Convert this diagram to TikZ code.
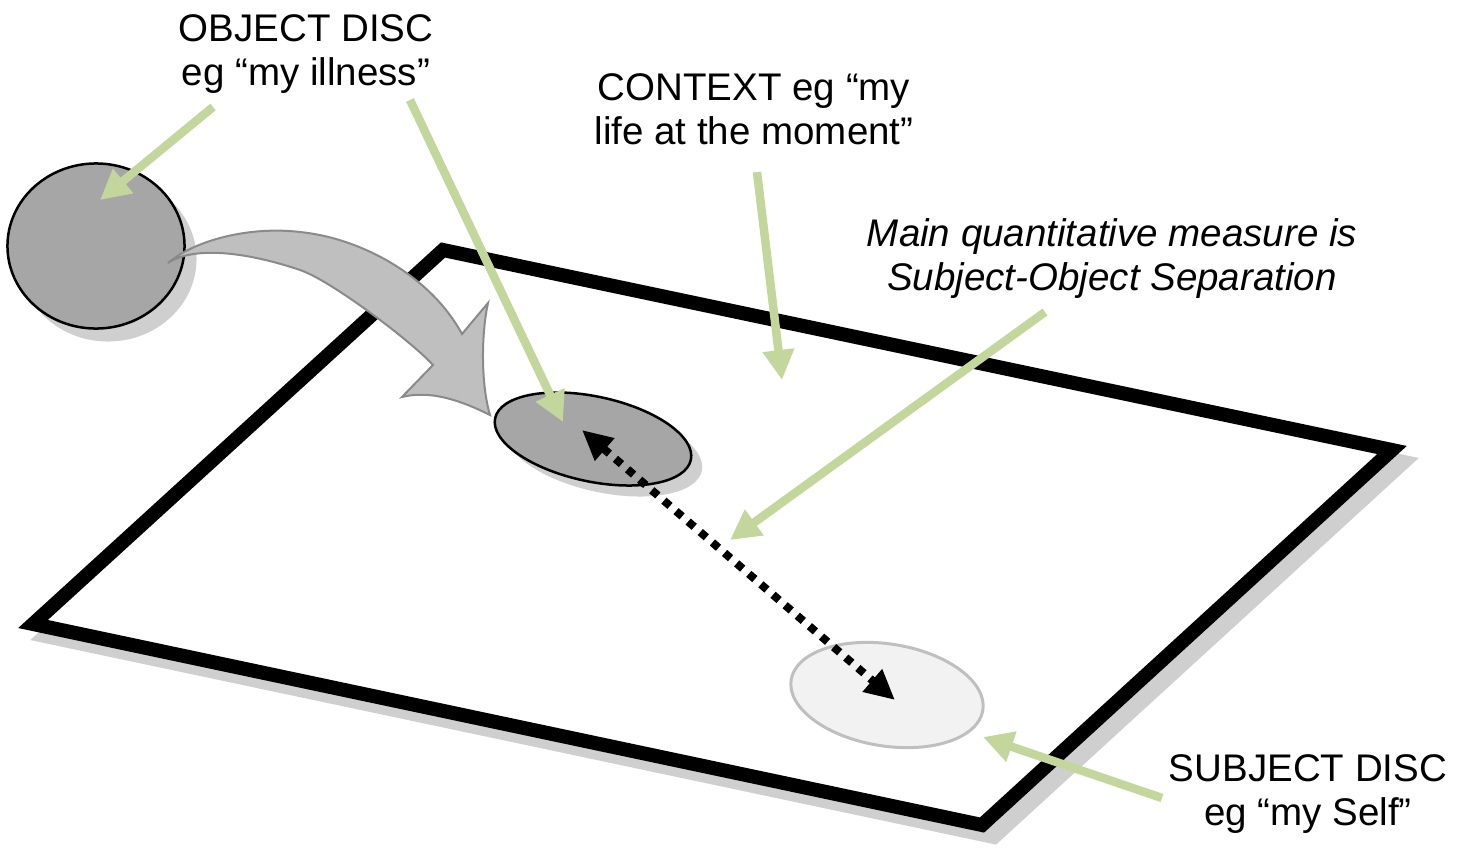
\documentclass[tikz,border=0pt]{standalone}
\usepackage{fontspec}
\setmainfont{Liberation Sans}
\usetikzlibrary{arrows.meta}
\definecolor{shadowc}{HTML}{CFCFCF}
\definecolor{discdark}{HTML}{A6A6A6}
\definecolor{disclight}{HTML}{F2F2F2}
\definecolor{discedge}{HTML}{BFBFBF}
\definecolor{pointer}{HTML}{C3D69B}
\definecolor{bendfill}{HTML}{BFBFBF}
\definecolor{bendedge}{HTML}{8A8A8A}
\begin{document}
\begin{tikzpicture}[x=0.01cm,y=-0.01cm,
  txt/.style={align=center, inner sep=0pt, anchor=north, font=\fontsize{10.95}{12.4}\selectfont},
  pointerarrow/.style={draw=pointer, line width=0.085cm, -{Triangle[length=0.3cm,width=0.3cm]}},
  planeframe/.style={line width=0.14cm, line join=miter},
  separation/.style={line width=0.08cm, dash pattern=on 0.08cm off 0.08cm,
    {Triangle[length=0.3cm,width=0.28cm]}-{Triangle[length=0.3cm,width=0.28cm]}}]
\useasboundingbox (0,0) rectangle (1466,848);

% plane shadow and plane
\draw[planeframe, draw=shadowc, fill=shadowc] (455,262) -- (1404,462) -- (994,837) -- (45,636) -- cycle;
\draw[planeframe, draw=black, fill=white] (443,250) -- (1392,450) -- (982,825) -- (33,624) -- cycle;

% object disc (off the plane)
\fill[shadowc] (108,259) ellipse [x radius=0.885cm, y radius=0.825cm];
\draw[fill=discdark, line width=0.025cm] (96,246) ellipse [x radius=0.885cm, y radius=0.825cm];

% curved block arrow
\draw[fill=bendfill, draw=bendedge, line width=0.02cm, line join=miter]
  (168,263) .. controls (195,240) and (250,226) .. (300,232)
  .. controls (360,238) and (430,275) .. (462,334)
  -- (488,303) .. controls (481,335) and (481,385) .. (490,415)
  .. controls (460,400) and (430,390) .. (402,397)
  -- (433,365) .. controls (410,340) and (330,280) .. (300,270)
  .. controls (250,253) and (195,245) .. (168,263) -- cycle;

% object disc on the plane
\fill[shadowc, rotate around={-12:(604,450)}] (604,450) ellipse [x radius=1.00cm, y radius=0.425cm];
\draw[fill=discdark, line width=0.025cm, rotate around={-12:(593,439)}] (593,439) ellipse [x radius=1.00cm, y radius=0.425cm];

% subject disc
\draw[fill=disclight, draw=discedge, line width=0.03cm, rotate around={-9:(887,695)}] (887,695) ellipse [x radius=0.97cm, y radius=0.51cm];

% separation arrow
\coordinate (sepA) at (582,430);
\coordinate (sepB) at (895,700);
\draw[separation] (sepA) -- (sepB);

% labels
\node[txt] (objlab) at (306,14) {OBJECT DISC\\eg “my illness”};
\node[txt] (ctxlab) at (754,73) {CONTEXT eg “my\\life at the moment”};
\node[txt, font=\fontsize{10.95}{12.4}\selectfont\itshape] (measlab) at (1112,218) {Main quantitative measure is\\Subject-Object Separation};
\node[txt] (subjlab) at (1308,754) {SUBJECT DISC\\eg “my Self”};

% green pointers
\coordinate (p1s) at (213,107); \coordinate (p1e) at (100,200);
\coordinate (p2s) at (410,100); \coordinate (p2e) at (563,422);
\coordinate (p3s) at (757,172); \coordinate (p3e) at (782,380);
\coordinate (p4s) at (1045,312); \coordinate (p4e) at (730,540);
\coordinate (p5s) at (1162,798); \coordinate (p5e) at (983,737);
\draw[pointerarrow] (p1s) -- (p1e);
\draw[pointerarrow] (p2s) -- (p2e);
\draw[pointerarrow] (p3s) -- (p3e);
\draw[pointerarrow] (p4s) -- (p4e);
\draw[pointerarrow] (p5s) -- (p5e);
\end{tikzpicture}
\end{document}
